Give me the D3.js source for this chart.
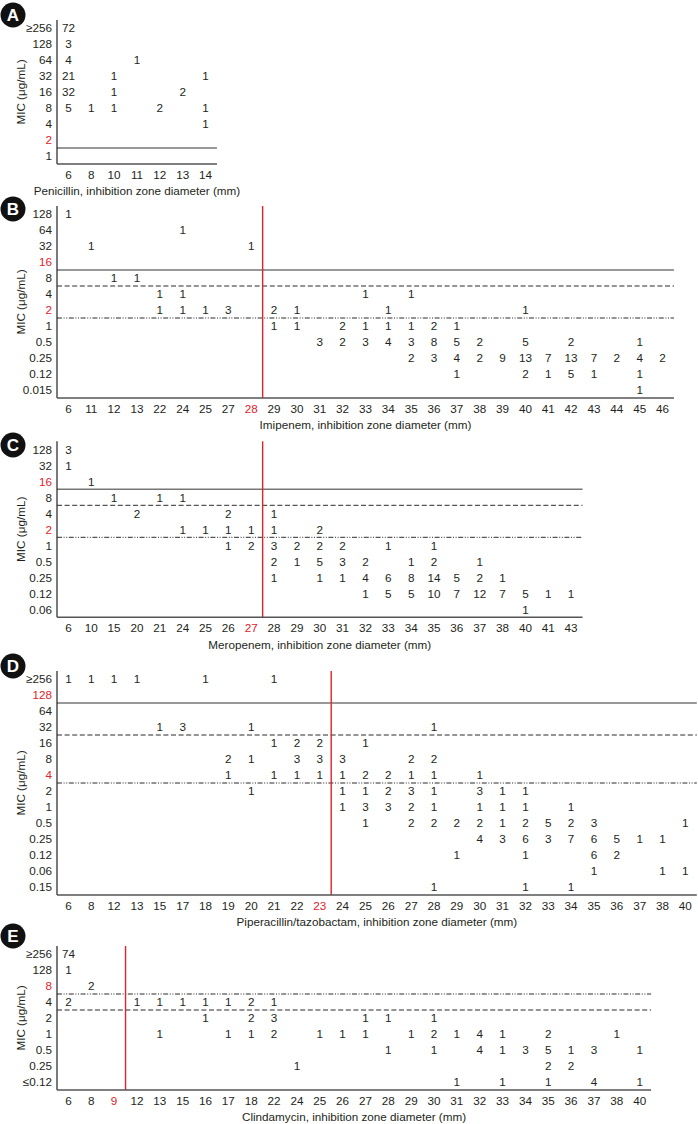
<!DOCTYPE html>
<html>
<head>
<meta charset="utf-8">
<script src="https://cdn.jsdelivr.net/npm/d3@7"></script>
<style>
  body { margin: 0; background: #fff; }
  svg text { font-family: "Liberation Sans", Arial, sans-serif; fill: #231f20; }
</style>
</head>
<body>
<div id="chart"></div>
<script>
// Panel A - penicillin
const aCols = [6, 8, 10, 11, 12, 13, 14];
const aRows = ["≥256", "128", "64", "32", "16", "8", "4", "2", "1"];
const aCounts = [
    ["≥256", 6, 72], ["128", 6, 3], ["64", 6, 4], ["64", 11, 1],
    ["32", 6, 21], ["32", 10, 1], ["32", 14, 1],
    ["16", 6, 32], ["16", 10, 1], ["16", 13, 2],
    ["8", 6, 5], ["8", 8, 1], ["8", 10, 1], ["8", 12, 2], ["8", 14, 1],
    ["4", 14, 1]
];
const aBreaks = [["2", "solid"]];
const aRedRows = ["2"];
const aCutCol = null;

// Panel B - imipenem
const bCols = [6, 11, 12, 13, 22, 24, 25, 27, 28, 29, 30, 31, 32, 33, 34, 35, 36, 37, 38, 39, 40, 41, 42, 43, 44, 45, 46];
const bRows = ["128", "64", "32", "16", "8", "4", "2", "1", "0.5", "0.25", "0.12", "0.015"];
const bCounts = [
    ["128", 6, 1], ["64", 24, 1], ["32", 11, 1], ["32", 28, 1],
    ["8", 12, 1], ["8", 13, 1],
    ["4", 22, 1], ["4", 24, 1], ["4", 33, 1], ["4", 35, 1],
    ["2", 22, 1], ["2", 24, 1], ["2", 25, 1], ["2", 27, 3], ["2", 29, 2], ["2", 30, 1], ["2", 34, 1], ["2", 40, 1],
    ["1", 29, 1], ["1", 30, 1], ["1", 32, 2], ["1", 33, 1], ["1", 34, 1], ["1", 35, 1], ["1", 36, 2], ["1", 37, 1],
    ["0.5", 31, 3], ["0.5", 32, 2], ["0.5", 33, 3], ["0.5", 34, 4], ["0.5", 35, 3], ["0.5", 36, 8],
    ["0.5", 37, 5], ["0.5", 38, 2], ["0.5", 40, 5], ["0.5", 42, 2], ["0.5", 45, 1],
    ["0.25", 35, 2], ["0.25", 36, 3], ["0.25", 37, 4], ["0.25", 38, 2], ["0.25", 39, 9], ["0.25", 40, 13],
    ["0.25", 41, 7], ["0.25", 42, 13], ["0.25", 43, 7], ["0.25", 44, 2], ["0.25", 45, 4], ["0.25", 46, 2],
    ["0.12", 37, 1], ["0.12", 40, 2], ["0.12", 41, 1], ["0.12", 42, 5], ["0.12", 43, 1], ["0.12", 45, 1],
    ["0.015", 45, 1]
];
const bBreaks = [["16", "solid"], ["8", "dashed"], ["2", "dashdot"]];
const bRedRows = ["16", "2"];
const bCutCol = 28;

// Panel C - meropenem
const cCols = [6, 10, 15, 20, 21, 24, 25, 26, 27, 28, 29, 30, 31, 32, 33, 34, 35, 36, 37, 38, 40, 41, 43];
const cRows = ["128", "32", "16", "8", "4", "2", "1", "0.5", "0.25", "0.12", "0.06"];
const cCounts = [
    ["128", 6, 3], ["32", 6, 1], ["16", 10, 1],
    ["8", 15, 1], ["8", 21, 1], ["8", 24, 1],
    ["4", 20, 2], ["4", 26, 2], ["4", 28, 1],
    ["2", 24, 1], ["2", 25, 1], ["2", 26, 1], ["2", 27, 1], ["2", 28, 1], ["2", 30, 2],
    ["1", 26, 1], ["1", 27, 2], ["1", 28, 3], ["1", 29, 2], ["1", 30, 2], ["1", 31, 2], ["1", 33, 1], ["1", 35, 1],
    ["0.5", 28, 2], ["0.5", 29, 1], ["0.5", 30, 5], ["0.5", 31, 3], ["0.5", 32, 2], ["0.5", 34, 1], ["0.5", 35, 2], ["0.5", 37, 1],
    ["0.25", 28, 1], ["0.25", 30, 1], ["0.25", 31, 1], ["0.25", 32, 4], ["0.25", 33, 6], ["0.25", 34, 8],
    ["0.25", 35, 14], ["0.25", 36, 5], ["0.25", 37, 2], ["0.25", 38, 1],
    ["0.12", 32, 1], ["0.12", 33, 5], ["0.12", 34, 5], ["0.12", 35, 10], ["0.12", 36, 7], ["0.12", 37, 12],
    ["0.12", 38, 7], ["0.12", 40, 5], ["0.12", 41, 1], ["0.12", 43, 1],
    ["0.06", 40, 1]
];
const cBreaks = [["16", "solid"], ["8", "dashed"], ["2", "dashdot"]];
const cRedRows = ["16", "2"];
const cCutCol = 27;

// Panel D - piperacillin/tazobactam
const dCols = [6, 8, 12, 13, 15, 17, 18, 19, 20, 21, 22, 23, 24, 25, 26, 27, 28, 29, 30, 31, 32, 33, 34, 35, 36, 37, 38, 40];
const dRows = ["≥256", "128", "64", "32", "16", "8", "4", "2", "1", "0.5", "0.25", "0.12", "0.06", "0.15"];
const dCounts = [
    ["≥256", 6, 1], ["≥256", 8, 1], ["≥256", 12, 1], ["≥256", 13, 1], ["≥256", 18, 1], ["≥256", 21, 1],
    ["32", 15, 1], ["32", 17, 3], ["32", 20, 1], ["32", 28, 1],
    ["16", 21, 1], ["16", 22, 2], ["16", 23, 2], ["16", 25, 1],
    ["8", 19, 2], ["8", 20, 1], ["8", 22, 3], ["8", 23, 3], ["8", 24, 3], ["8", 27, 2], ["8", 28, 2],
    ["4", 19, 1], ["4", 21, 1], ["4", 22, 1], ["4", 23, 1], ["4", 24, 1], ["4", 25, 2], ["4", 26, 2],
    ["4", 27, 1], ["4", 28, 1], ["4", 30, 1],
    ["2", 20, 1], ["2", 24, 1], ["2", 25, 1], ["2", 26, 2], ["2", 27, 3], ["2", 28, 1], ["2", 30, 3], ["2", 31, 1], ["2", 32, 1],
    ["1", 24, 1], ["1", 25, 3], ["1", 26, 3], ["1", 27, 2], ["1", 28, 1], ["1", 30, 1], ["1", 31, 1], ["1", 32, 1], ["1", 34, 1],
    ["0.5", 25, 1], ["0.5", 27, 2], ["0.5", 28, 2], ["0.5", 29, 2], ["0.5", 30, 2], ["0.5", 31, 1],
    ["0.5", 32, 2], ["0.5", 33, 5], ["0.5", 34, 2], ["0.5", 35, 3], ["0.5", 40, 1],
    ["0.25", 30, 4], ["0.25", 31, 3], ["0.25", 32, 6], ["0.25", 33, 3], ["0.25", 34, 7], ["0.25", 35, 6],
    ["0.25", 36, 5], ["0.25", 37, 1], ["0.25", 38, 1],
    ["0.12", 29, 1], ["0.12", 32, 1], ["0.12", 35, 6], ["0.12", 36, 2],
    ["0.06", 35, 1], ["0.06", 38, 1], ["0.06", 40, 1],
    ["0.15", 28, 1], ["0.15", 32, 1], ["0.15", 34, 1]
];
const dBreaks = [["128", "solid"], ["32", "dashed"], ["4", "dashdot"]];
const dRedRows = ["128", "4"];
const dCutCol = 23;

// Panel E - clindamycin
const eCols = [6, 8, 9, 12, 13, 15, 16, 17, 18, 22, 24, 25, 26, 27, 28, 29, 30, 31, 32, 33, 34, 35, 36, 37, 38, 40];
const eRows = ["≥256", "128", "8", "4", "2", "1", "0.5", "0.25", "≤0.12"];
const eCounts = [
    ["≥256", 6, 74], ["128", 6, 1], ["8", 8, 2],
    ["4", 6, 2], ["4", 12, 1], ["4", 13, 1], ["4", 15, 1], ["4", 16, 1], ["4", 17, 1], ["4", 18, 2], ["4", 22, 1],
    ["2", 16, 1], ["2", 18, 2], ["2", 22, 3], ["2", 27, 1], ["2", 28, 1], ["2", 30, 1],
    ["1", 13, 1], ["1", 17, 1], ["1", 18, 1], ["1", 22, 2], ["1", 25, 1], ["1", 26, 1], ["1", 27, 1],
    ["1", 29, 1], ["1", 30, 2], ["1", 31, 1], ["1", 32, 4], ["1", 33, 1], ["1", 35, 2], ["1", 38, 1],
    ["0.5", 28, 1], ["0.5", 30, 1], ["0.5", 32, 4], ["0.5", 33, 1], ["0.5", 34, 3], ["0.5", 35, 5],
    ["0.5", 36, 1], ["0.5", 37, 3], ["0.5", 40, 1],
    ["0.25", 24, 1], ["0.25", 35, 2], ["0.25", 36, 2],
    ["≤0.12", 31, 1], ["≤0.12", 33, 1], ["≤0.12", 35, 1], ["≤0.12", 37, 4], ["≤0.12", 40, 1]
];
const eBreaks = [["8", "dashdot"], ["4", "dashed"]];
const eRedRows = ["8"];
const eCutCol = 9;

const W = 698, H = 1124;
const left = 57, colW = 22.85, rowH = 16;
const RED = "#e3212a";
const FS = 11.7;

const svg = d3.select("#chart").append("svg")
    .attr("width", W)
    .attr("height", H);

svg.append("rect").attr("width", W).attr("height", H).attr("fill", "#fff");

const lineStyle = {
    solid: { stroke: "#767676", width: 1.6, dash: null },
    dashed: { stroke: "#2b2b2b", width: 1, dash: "5,2.6" },
    dashdot: { stroke: "#2b2b2b", width: 1, dash: "5,1.6,1,1.6,1,1.6" }
};

function drawPanel(p) {
    const g = svg.append("g");

    const x = d3.scaleBand()
        .domain(p.cols)
        .range([left, left + p.cols.length * colW]);

    const y = d3.scaleBand()
        .domain(p.rows)
        .range([p.top, p.top + p.rows.length * rowH]);

    const x0 = left, x1 = left + p.cols.length * colW;
    const y0 = p.top, y1 = p.top + p.rows.length * rowH;

    // panel letter
    g.append("circle")
        .attr("cx", 13)
        .attr("cy", p.letterY)
        .attr("r", 12.5)
        .attr("fill", "#111");
    g.append("text")
        .attr("x", 13)
        .attr("y", p.letterY)
        .attr("dy", "0.36em")
        .attr("text-anchor", "middle")
        .style("font-size", "17px")
        .style("font-weight", "bold")
        .style("fill", "#fff")
        .text(p.letter);

    // breakpoint lines
    p.breaks.forEach(([row, kind]) => {
        const s = lineStyle[kind];
        const yy = y(row) + y.bandwidth();
        g.append("line")
            .attr("x1", x0).attr("x2", x1)
            .attr("y1", yy).attr("y2", yy)
            .attr("stroke", s.stroke)
            .attr("stroke-width", s.width)
            .attr("stroke-dasharray", s.dash);
    });

    // zone cut-off
    if (p.cutCol !== null) {
        const xx = x(p.cutCol) + x.bandwidth();
        g.append("line")
            .attr("x1", xx).attr("x2", xx)
            .attr("y1", y0).attr("y2", y1)
            .attr("stroke", RED)
            .attr("stroke-width", 1.4);
    }

    // axes
    g.append("line")
        .attr("x1", x0).attr("x2", x0)
        .attr("y1", y0).attr("y2", y1)
        .attr("stroke", "#231f20")
        .attr("stroke-width", 1.2);
    g.append("line")
        .attr("x1", x0).attr("x2", x1)
        .attr("y1", y1).attr("y2", y1)
        .attr("stroke", "#555")
        .attr("stroke-width", 1.4);

    // y tick labels
    g.selectAll("text.ytick")
        .data(p.rows)
        .join("text")
        .attr("class", "ytick")
        .attr("x", 52)
        .attr("y", d => y(d) + y.bandwidth() / 2)
        .attr("dy", "0.36em")
        .attr("text-anchor", "end")
        .style("font-size", FS + "px")
        .style("fill", d => p.redRows.includes(d) ? RED : null)
        .text(d => d);

    // x tick labels
    g.selectAll("text.xtick")
        .data(p.cols)
        .join("text")
        .attr("class", "xtick")
        .attr("x", d => x(d) + x.bandwidth() / 2)
        .attr("y", y1 + 10.5)
        .attr("dy", "0.36em")
        .attr("text-anchor", "middle")
        .style("font-size", FS + "px")
        .style("fill", d => d === p.cutCol ? RED : null)
        .text(d => d);

    // counts
    g.selectAll("text.count")
        .data(p.counts)
        .join("text")
        .attr("class", "count")
        .attr("x", d => x(d[1]) + x.bandwidth() / 2)
        .attr("y", d => y(d[0]) + y.bandwidth() / 2)
        .attr("dy", "0.36em")
        .attr("text-anchor", "middle")
        .style("font-size", FS + "px")
        .text(d => d[2]);

    // axis titles
    g.append("text")
        .attr("x", (x0 + x1) / 2)
        .attr("y", y1 + 27)
        .attr("dy", "0.36em")
        .attr("text-anchor", "middle")
        .style("font-size", FS + "px")
        .text(p.title);

    g.append("text")
        .attr("transform", `translate(21, ${(y0 + y1) / 2}) rotate(-90)`)
        .attr("dy", "0.36em")
        .attr("text-anchor", "middle")
        .style("font-size", FS + "px")
        .text("MIC (μg/mL)");
}

drawPanel({ letter: "A", letterY: 15, top: 20, cols: aCols, rows: aRows, counts: aCounts,
    breaks: aBreaks, redRows: aRedRows, cutCol: aCutCol,
    title: "Penicillin, inhibition zone diameter (mm)" });

drawPanel({ letter: "B", letterY: 209, top: 206, cols: bCols, rows: bRows, counts: bCounts,
    breaks: bBreaks, redRows: bRedRows, cutCol: bCutCol,
    title: "Imipenem, inhibition zone diameter (mm)" });

drawPanel({ letter: "C", letterY: 445, top: 441.3, cols: cCols, rows: cRows, counts: cCounts,
    breaks: cBreaks, redRows: cRedRows, cutCol: cCutCol,
    title: "Meropenem, inhibition zone diameter (mm)" });

drawPanel({ letter: "D", letterY: 666, top: 671, cols: dCols, rows: dRows, counts: dCounts,
    breaks: dBreaks, redRows: dRedRows, cutCol: dCutCol,
    title: "Piperacillin/tazobactam, inhibition zone diameter (mm)" });

drawPanel({ letter: "E", letterY: 936, top: 946, cols: eCols, rows: eRows, counts: eCounts,
    breaks: eBreaks, redRows: eRedRows, cutCol: eCutCol,
    title: "Clindamycin, inhibition zone diameter (mm)" });
</script>
</body>
</html>
